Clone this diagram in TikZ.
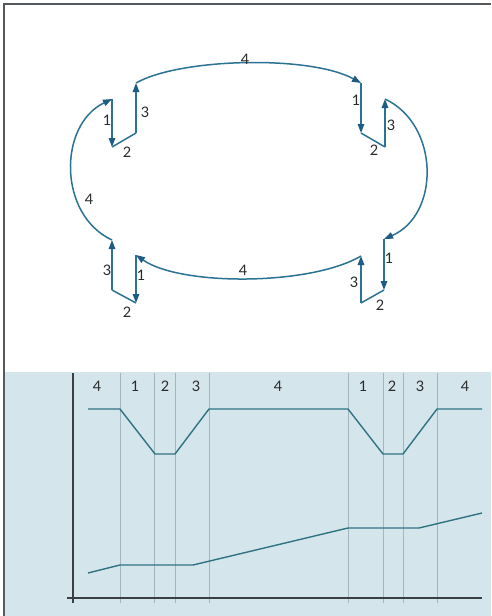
\documentclass[tikz,border=0pt]{standalone}
\usepackage{fontspec}
\setmainfont{Lato}
\usetikzlibrary{arrows.meta}
\definecolor{loopc}{HTML}{2B7394}
\definecolor{arrc}{HTML}{1D5C85}
\definecolor{txtc}{HTML}{2A2A2A}
\definecolor{gridc}{HTML}{A3B5BD}
\definecolor{axc}{HTML}{3A3F44}
\definecolor{curvc}{HTML}{2F7383}
\definecolor{bgc}{HTML}{D4E5EC}
\definecolor{framec}{HTML}{55595C}
\begin{document}
\begin{tikzpicture}[x=1pt,y=-1pt,
  loopline/.style={draw=loopc,line width=1.5pt},
  arr/.style={loopline,-{Triangle[length=9pt,width=6.5pt,color=arrc]}},
  lbl/.style={font=\fontsize{14.5}{16}\selectfont,text=txtc,inner sep=0pt},
  gridline/.style={draw=gridc,line width=0.7pt},
  axisline/.style={draw=axc,line width=1.6pt},
  curveline/.style={draw=curvc,line width=1.4pt}]
\useasboundingbox (0,0) rectangle (491,616);
% background and frame
\fill[white] (0,0) rectangle (491,616);
\fill[bgc] (4,372) rectangle (491,616);
\draw[framec,line width=1.4pt] (4,616) -- (4,4) -- (491,4);

% ---------- loop diagram ----------
\coordinate (TL1a) at (112,99);
\coordinate (TL1b) at (112,147);
\coordinate (TL3a) at (136,133);
\coordinate (TL3b) at (136,83);
\coordinate (TR1a) at (361,83);
\coordinate (TR1b) at (361,133);
\coordinate (TR3a) at (385,147);
\coordinate (TR3b) at (385,99);
\coordinate (BR1a) at (384,239);
\coordinate (BR1b) at (384,290);
\coordinate (BR3a) at (361,303);
\coordinate (BR3b) at (361,256);
\coordinate (BL1a) at (136,255);
\coordinate (BL1b) at (136,303);
\coordinate (BL3a) at (112,290);
\coordinate (BL3b) at (112,240);

% top-left cluster
\draw[arr] (TL1a) -- (TL1b);
\draw[loopline] (TL1b) -- (TL3a);
\draw[arr] (TL3a) -- (TL3b);
% top arc
\draw[arr] (TL3b) .. controls (180,58) and (310,55) .. (TR1a);
% top-right cluster
\draw[arr] (TR1a) -- (TR1b);
\draw[loopline] (TR1b) -- (TR3a);
\draw[arr] (TR3a) -- (TR3b);
% right arc
\draw[arr] (TR3b) .. controls (440,125) and (440,215) .. (BR1a);
% bottom-right cluster
\draw[arr] (BR1a) -- (BR1b);
\draw[loopline] (BR1b) -- (BR3a);
\draw[arr] (BR3a) -- (BR3b);
% bottom arc
\draw[arr] (BR3b) .. controls (310,286) and (180,286) .. (BL1a);
% bottom-left cluster
\draw[arr] (BL1a) -- (BL1b);
\draw[loopline] (BL1b) -- (BL3a);
\draw[arr] (BL3a) -- (BL3b);
% left arc
\draw[arr] (BL3b) .. controls (58,215) and (58,125) .. (TL1a);

% loop labels
\node[lbl] (tl1) at (107,120) {1};
\node[lbl] (tl2) at (127,152) {2};
\node[lbl] (tl3) at (145,112) {3};
\node[lbl] (top4) at (245,59) {4};
\node[lbl] (tr1) at (356,100) {1};
\node[lbl] (tr3) at (391,125) {3};
\node[lbl] (tr2) at (374,150) {2};
\node[lbl] (left4) at (89,199) {4};
\node[lbl] (bot4) at (243,270) {4};
\node[lbl] (bl3) at (107,270) {3};
\node[lbl] (bl1) at (141,275) {1};
\node[lbl] (bl2) at (127,312) {2};
\node[lbl] (br3) at (354,282) {3};
\node[lbl] (br2) at (380,305) {2};
\node[lbl] (br1) at (389,258) {1};

% ---------- chart ----------
\foreach \x in {120,154,175,209,348,383,403,437}
  \draw[gridline] (\x,373) -- (\x,603);
\draw[axisline] (73,373) -- (73,603);
\draw[axisline] (67,598) -- (482,598);

\node[lbl] (c1) at (97,386) {4};
\node[lbl] (c2) at (135,386) {1};
\node[lbl] (c3) at (165,386) {2};
\node[lbl] (c4) at (196,386) {3};
\node[lbl] (c5) at (278,386) {4};
\node[lbl] (c6) at (363,386) {1};
\node[lbl] (c7) at (392,386) {2};
\node[lbl] (c8) at (420,386) {3};
\node[lbl] (c9) at (465,386) {4};

\draw[curveline] (88,409) -- (120,409) -- (155,454) -- (175,454) -- (209,409)
  -- (348,409) -- (383,454) -- (403,454) -- (437,409) -- (482,409);
\draw[curveline] (88,573) -- (120,565) -- (193,565) -- (348,528) -- (419,528) -- (482,513);
\end{tikzpicture}
\end{document}
